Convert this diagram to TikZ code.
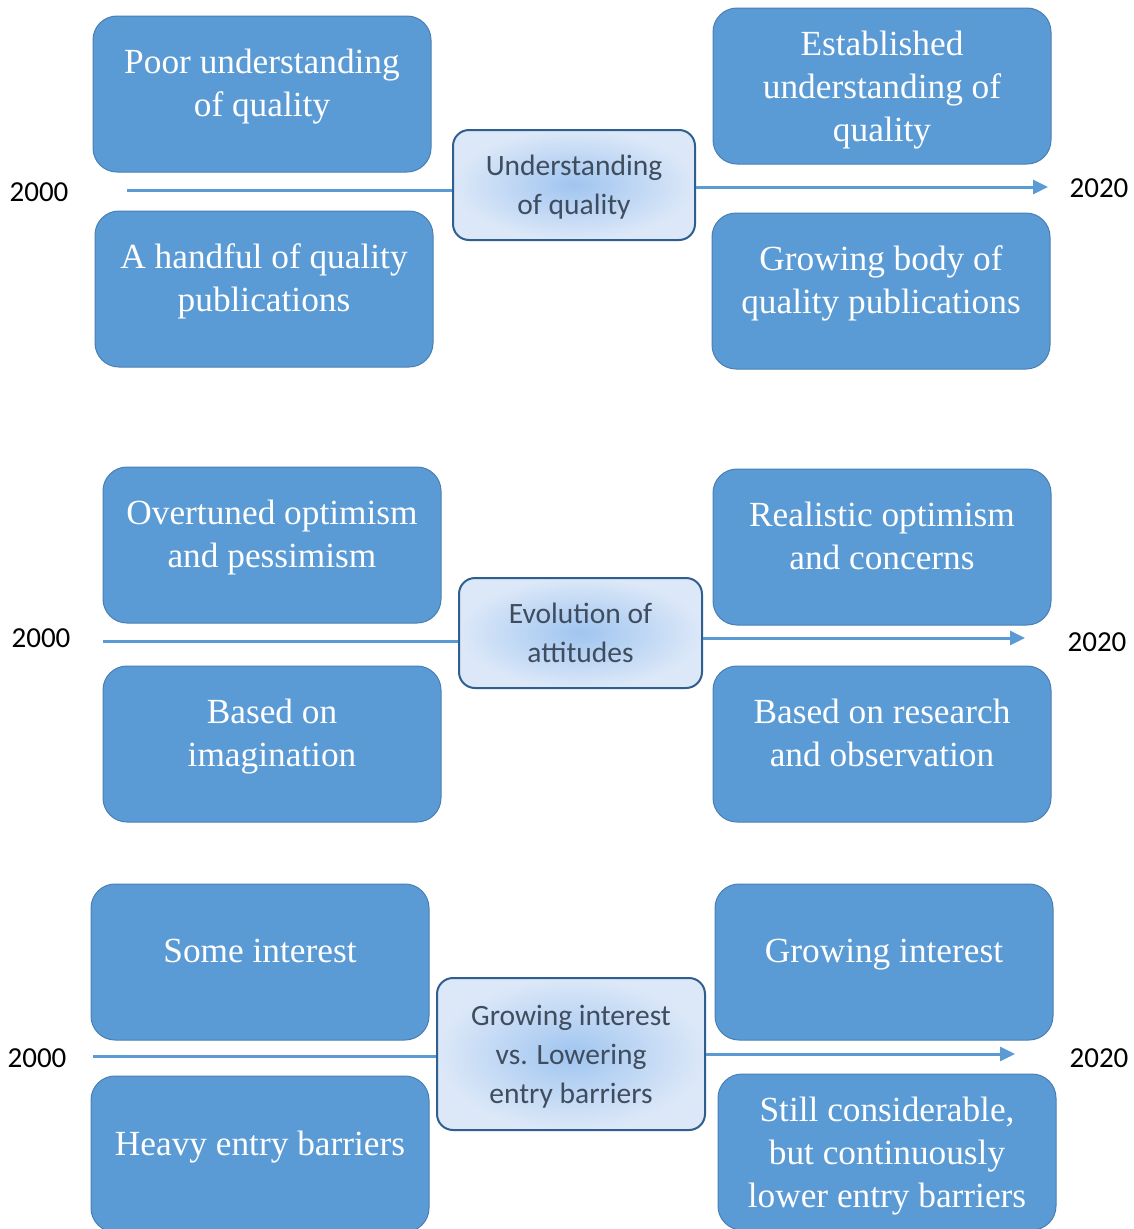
\documentclass[tikz,border=0pt]{standalone}
\usepackage{fontspec}
\setmainfont{Liberation Serif}
\newfontfamily\calfont{Carlito}
\usetikzlibrary{arrows.meta}
\definecolor{boxfill}{HTML}{5B9BD5}
\definecolor{boxedge}{HTML}{4A7FB3}
\definecolor{hubedge}{HTML}{2F5F8F}
\definecolor{hubin}{HTML}{A0C5F0}
\definecolor{hubout}{HTML}{DCE8F8}
\definecolor{hubtext}{HTML}{3F4D5E}
\definecolor{axis}{HTML}{5B9BD5}
\begin{document}
\begin{tikzpicture}[x=1pt,y=-1pt,
  box/.style={draw=boxedge, line width=1pt, fill=boxfill, rounded corners=24pt,
    minimum width=338pt, minimum height=156pt, inner sep=0pt, text=white,
    align=center, font=\fontsize{35.3}{43}\selectfont, text depth=22pt},
  threeline/.style={text depth=-2pt},
  hub/.style={draw=hubedge, line width=2pt, rounded corners=16pt,
    inner color=hubin, outer color=hubout, text=hubtext, inner sep=0pt,
    align=center, font=\calfont\fontsize{29.5}{39}\selectfont, text depth=0pt},
  year/.style={font=\calfont\fontsize{29}{34}\selectfont, text=black, inner sep=0pt},
  timeline/.style={draw=axis, line width=3pt},
  tip/.style={-{Triangle[length=15pt,width=14pt]}}]

\useasboundingbox (0,0) rectangle (1133,1229);
\fill[white] (0,0) rectangle (1133,1229);

% ---- understanding of quality ----
\coordinate (s1) at (127,190);
\coordinate (e1) at (1048,187);
\node[hub, minimum width=242pt, minimum height=110pt] (h1) at (574,185)
  {Understanding\\of quality};
\draw[timeline] (s1) -- (s1 -| h1.west);
\draw[timeline, tip] (h1.east |- e1) -- (e1);
\node[box] (a1) at (262,94) {Poor understanding\\of quality};
\node[box, threeline] (b1) at (882,86) {Established\\understanding of\\quality};
\node[box] (c1) at (264,289) {A handful of quality\\publications};
\node[box] (d1) at (881,291) {Growing body of\\quality publications};
\node[year] (y1a) at (39,192) {2000};
\node[year] (y1b) at (1099,188) {2020};

% ---- evolution of attitudes ----
\coordinate (s2) at (103,641);
\coordinate (e2) at (1025,638);
\node[hub, minimum width=243pt, minimum height=110pt] (h2) at (580.5,633)
  {Evolution of\\attitudes};
\draw[timeline] (s2) -- (s2 -| h2.west);
\draw[timeline, tip] (h2.east |- e2) -- (e2);
\node[box] (a2) at (272,545) {Overtuned optimism\\and pessimism};
\node[box] (b2) at (882,547) {Realistic optimism\\and concerns};
\node[box] (c2) at (272,744) {Based on\\imagination};
\node[box] (d2) at (882,744) {Based on research\\and observation};
\node[year] (y2a) at (41,638) {2000};
\node[year] (y2b) at (1097,642) {2020};

% ---- interest vs. entry barriers ----
\coordinate (s3) at (93,1056);
\coordinate (e3) at (1015,1054);
\node[hub, minimum width=268pt, minimum height=152pt] (h3) at (571,1054)
  {Growing interest\\vs. Lowering\\entry barriers};
\draw[timeline] (s3) -- (s3 -| h3.west);
\draw[timeline, tip] (h3.east |- e3) -- (e3);
\node[box] (a3) at (260,962) {Some interest};
\node[box] (b3) at (884,962) {Growing interest};
\node[box] (c3) at (260,1154) {Heavy entry barriers};
\node[box, threeline] (d3) at (887,1152) {Still considerable,\\but continuously\\lower entry barriers};
\node[year] (y3a) at (37,1058) {2000};
\node[year] (y3b) at (1099,1058) {2020};
\end{tikzpicture}
\end{document}
